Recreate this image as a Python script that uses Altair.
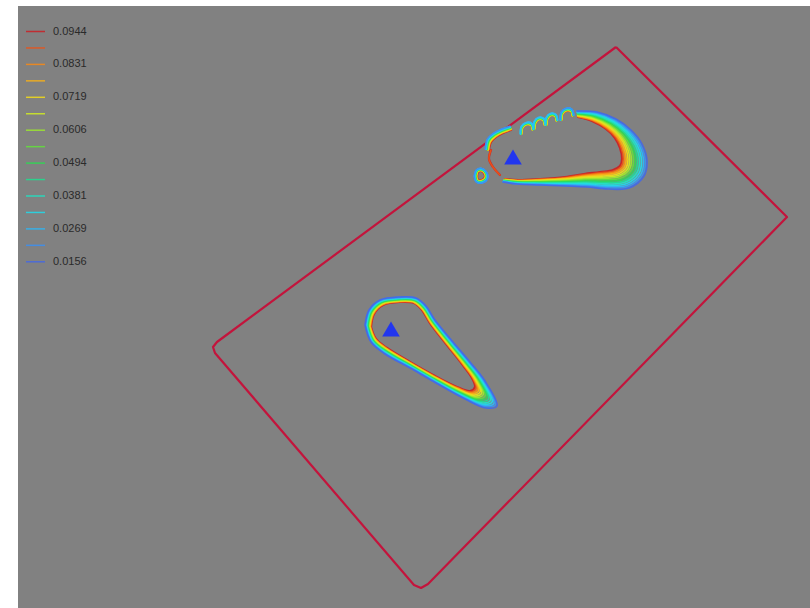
import altair as alt
import pandas as pd

# Pressure levels (highest first) and the colour of each contour level
LEVELS = ["0.0944", "0.0888", "0.0831", "0.0775", "0.0719", "0.0663", "0.0606", "0.0550",
          "0.0494", "0.0438", "0.0381", "0.0325", "0.0269", "0.0213", "0.0156"]
SHOWN_LABELS = ["0.0944", "0.0831", "0.0719", "0.0606", "0.0494", "0.0381", "0.0269", "0.0156"]
COLORS = ["#cc1f24", "#ec5418", "#f98a14", "#fbb316", "#f4dc18", "#d2ec22", "#9eea2c", "#62e23a",
          "#2cdc52", "#1ee090", "#1ee6c4", "#20dcec", "#2cb8f8", "#3a90f4", "#4468e6"]
# how far each level sits from the innermost contour (0 = innermost, 1 = outermost)
SPREAD = [0.0, 0.05, 0.11, 0.17, 0.24, 0.31, 0.38, 0.46, 0.54, 0.62, 0.70, 0.78, 0.86, 0.93, 1.0]

# Pressure plate outline
plate_x = [616, 787, 428, 421, 414, 215, 213, 217, 616]
plate_y = [47, 217, 584, 588, 585, 353, 347, 342, 47]

# Centres of pressure of both feet
cop_x = [391, 513]
cop_y = [329, 157]

# Foot outlines: innermost contour (x, y) and the outward drift of the outermost contour (dx, dy)
left_foot_x = [371, 374, 383, 400, 414, 422, 430, 447, 462, 472, 475, 470, 457, 433, 410, 387, 376, 371]
left_foot_y = [327, 314, 305, 302, 303, 310, 323, 345, 364, 378, 387, 391, 387, 375, 362, 348, 339, 327]
left_foot_dx = [-6, -5, -3, 0, 2, 4, 5, 6, 8, 13, 22, 16, 8, 3, 2, -2, -5, -6]
left_foot_dy = [-2, -4, -5, -5, -5, -4, -3, -3, -2, 3, 19, 17, 12, 8, 7, 6, 3, -2]

sole_x = [578, 592, 606, 615, 620, 622, 620, 613, 600, 584, 565, 540, 518, 505]
sole_y = [117, 121, 129, 138, 148, 159, 166, 170, 172, 174, 177, 179, 180, 179]
sole_dx = [-1, 5, 10, 16, 22, 25, 24, 16, 8, 3, 1, 0, -1, -2]
sole_dy = [-6, -9, -10, -8, -4, 2, 10, 18, 17, 13, 9, 6, 4, 3]

big_toe_x = [489, 491, 496, 503, 511]
big_toe_y = [150, 142, 137, 133, 130]
big_toe_dx = [-4, -4, -3, -2, -1]
big_toe_dy = [-1, -3, -4, -4, -4]

inner_edge_x = [491, 489, 493, 500]
inner_edge_y = [150, 159, 167, 175]
inner_edge_dx = [-1, -1, -1, -1]
inner_edge_dy = [0, 0, 0, 0]

toe_a_x = [522, 523, 527, 531, 532]
toe_a_y = [134, 128, 125, 126, 130]
toe_b_x = [535, 536, 539, 543, 544]
toe_b_y = [129, 123, 120, 121, 125]
toe_c_x = [547, 548, 551, 555, 556]
toe_c_y = [125, 119, 116, 117, 121]
toe_d_x = [562, 563, 567, 571, 572]
toe_d_y = [120, 114, 111, 112, 116]
toe_dx = [-2, -2, -1, 1, 2]
toe_dy = [0, -2, -3, -3, -1]

spot_x = [477, 478, 481, 484, 485, 482, 478, 477]
spot_y = [176, 172, 171, 173, 177, 180, 180, 176]
spot_dx = [-3, -2, 0, 2, 3, 1, -2, -3]
spot_dy = [0, -2, -3, -2, 1, 3, 2, 0]

# (name, xs, ys, dxs, dys, first level, last level)
parts = [
    ("left", left_foot_x, left_foot_y, left_foot_dx, left_foot_dy, 0, 14),
    ("sole", sole_x, sole_y, sole_dx, sole_dy, 0, 14),
    ("bigtoe", big_toe_x, big_toe_y, big_toe_dx, big_toe_dy, 0, 13),
    ("inner", inner_edge_x, inner_edge_y, inner_edge_dx, inner_edge_dy, 0, 1),
    ("toe_a", toe_a_x, toe_a_y, toe_dx, toe_dy, 2, 12),
    ("toe_b", toe_b_x, toe_b_y, toe_dx, toe_dy, 2, 12),
    ("toe_c", toe_c_x, toe_c_y, toe_dx, toe_dy, 2, 12),
    ("toe_d", toe_d_x, toe_d_y, toe_dx, toe_dy, 1, 13),
    ("spot", spot_x, spot_y, spot_dx, spot_dy, 0, 13),
]

rows = []
for name, xs, ys, dxs, dys, lo, hi in parts:
    for k in range(lo, hi + 1):
        f = SPREAD[k]
        for i, (x, y, dx, dy) in enumerate(zip(xs, ys, dxs, dys)):
            rows.append({
                "key": f"{name}-{k}",
                "level": LEVELS[k],
                "rank": k,
                "order": i,
                "x": x + dx * f,
                "y": y + dy * f,
                "w": 2.2 if k == 0 else 1.6,
            })
contours = pd.DataFrame(rows)

plate = pd.DataFrame({"x": plate_x, "y": plate_y, "order": list(range(len(plate_x)))})
cop = pd.DataFrame({"x": cop_x, "y": cop_y})

xs = alt.Scale(domain=[18, 810], nice=False, zero=False)
ys = alt.Scale(domain=[6, 608], nice=False, zero=False, reverse=True)

label_list = ",".join(f"'{v}'" for v in SHOWN_LABELS)

contour_layer = alt.Chart(contours).mark_line(interpolate="catmull-rom", strokeCap="round", opacity=0.92).encode(
    x=alt.X("x:Q", scale=xs, axis=None),
    y=alt.Y("y:Q", scale=ys, axis=None),
    detail="key:N",
    order=alt.Order("order:Q"),
    strokeWidth=alt.StrokeWidth("w:Q", scale=None, legend=None),
    color=alt.Color(
        "level:N",
        scale=alt.Scale(domain=LEVELS, range=COLORS),
        sort=LEVELS,
        legend=alt.Legend(
            title=None,
            orient="none",
            legendX=7,
            legendY=15,
            symbolType="stroke",
            symbolSize=361,
            symbolStrokeWidth=1.5,
            symbolOpacity=0.85,
            rowPadding=0.45,
            labelOffset=7,
            labelFont="Liberation Sans",
            labelFontSize=11,
            labelColor="#2a2a2a",
            padding=0,
            labelExpr=f"indexof([{label_list}], datum.label) >= 0 ? datum.label : ''",
        ),
    ),
)

plate_layer = alt.Chart(plate).mark_line(color="#c3143c", strokeWidth=2.2, strokeJoin="round").encode(
    x=alt.X("x:Q", scale=xs, axis=None),
    y=alt.Y("y:Q", scale=ys, axis=None),
    order="order:Q",
)

cop_layer = alt.Chart(cop).mark_point(shape="triangle-up", filled=True, size=310, color="#2236ee", opacity=1).encode(
    x=alt.X("x:Q", scale=xs, axis=None),
    y=alt.Y("y:Q", scale=ys, axis=None),
)

chart = alt.layer(plate_layer, contour_layer, cop_layer).properties(
    width=792,
    height=602,
    padding={"left": 18, "top": 6, "right": 0, "bottom": 0},
    autosize=alt.AutoSizeParams(type="none"),
    background="white",
).configure_view(
    fill="#818181",
    stroke=None,
)

chart.save("out.html", embed_options={"renderer": "svg", "actions": False})
